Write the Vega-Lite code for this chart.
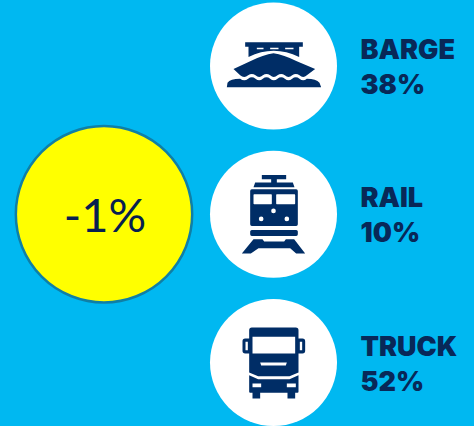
{
"$schema":"https://vega.github.io/schema/vega-lite/v6.json",
"width":474,"height":426,"padding":0,"autosize":{"type":"fit","contains":"padding"},
"background":"#00B8F1",
"config":{"view":{"stroke":null}},
"datasets":{"modes":[{"mode":"BARGE","share":0.38},{"mode":"RAIL","share":0.10},{"mode":"TRUCK","share":0.52}],"change":[{"label":"-1%"}]},
"encoding":{
"x":{"datum":"icon","type":"nominal","axis":null,"scale":{"type":"point","domain":["change","icon"],"range":[104,273.5],"padding":0}},
"y":{"field":"mode","type":"nominal","axis":null,"scale":{"type":"point","domain":["BARGE","RAIL","TRUCK"],"range":[66,362.5],"padding":0}}
},
"layer":[
{"data":{"name":"change"},"mark":{"type":"point","shape":"circle","filled":true,"fill":"#FFFF00","stroke":"#0F7FA6","strokeWidth":2.5,"size":31100,"opacity":1},
"encoding":{"x":{"datum":"change","type":"nominal"},"y":{"datum":"RAIL","type":"nominal"}}},
{"data":{"name":"change"},"mark":{"type":"text","font":"Lato","fontSize":47,"fontWeight":400,"color":"#071F50","align":"center","baseline":"alphabetic","dy":17.5,"dx":1},
"encoding":{"x":{"datum":"change","type":"nominal"},"y":{"datum":"RAIL","type":"nominal"},"text":{"field":"label"}}},
{"data":{"name":"modes"},"mark":{"type":"point","shape":"circle","filled":true,"fill":"#FFFFFF","strokeWidth":0,"size":16129,"opacity":1}},
{"data":{"name":"modes"},"mark":{"type":"point","filled":true,"fill":"#002D66","strokeWidth":0,"size":0.4444,"opacity":1},
"encoding":{"shape":{"field":"mode","type":"nominal","legend":null,"scale":{"domain":["BARGE","RAIL","TRUCK"],"range":[
"M-85 -71L88 -71L88 -58L-85 -58ZM-75 -58L77 -58L77 -27Q0 -65 -75 -27ZM-50 -55L-50 -50L-30 -50L-30 -55ZM-10 -55L-10 -50L15 -50L15 -55ZM35 -55L35 -50L60 -50L60 -55ZM-120 9L-70 -14Q-30 -34 0 -38Q30 -34 70 -14L125 9L100 28Q89 38 78 28Q67 20 56 28Q45 38 34 28Q23 20 12 28Q1 38 -10 28Q-21 20 -32 28Q-43 38 -54 28Q-65 20 -76 28Q-88 38 -100 28ZM-140 64L143 64L138 50Q128 38 100 38Q89 48 78 38Q67 30 56 38Q45 48 34 38Q23 30 12 38Q1 48 -10 38Q-21 30 -32 38Q-43 48 -54 38Q-65 30 -76 38Q-88 48 -100 38Q-130 38 -138 50Z",
"M-35 -118L38 -118L38 -105L-35 -105ZM-7 -105L10 -105L10 -95L-7 -95ZM-55 -95L58 -95L63 -81L-60 -81ZM-65 -75L68 -75Q73 -75 73 -70L73 30Q73 35 68 35L-65 35Q-70 35 -70 30L-70 -70Q-70 -75 -65 -75ZM-60 -58L-60 -32Q-60 -30 -58 -30L-7 -30Q-5 -30 -5 -32L-5 -58Q-5 -60 -7 -60L-58 -60Q-60 -60 -60 -58ZM8 -58L8 -32Q8 -30 10 -30L63 -30Q65 -30 65 -32L65 -58Q65 -60 63 -60L10 -60Q8 -60 8 -58ZM-7 -10Q-7 -3 0 -3Q7 -3 7 -10Q7 -17 0 -17Q-7 -17 -7 -10ZM-44 14Q-44 21 -37 21Q-30 21 -30 14Q-30 7 -37 7Q-44 7 -44 14ZM33 14Q33 21 40 21Q47 21 47 14Q47 7 40 7Q33 7 33 14ZM-65 47L68 47Q73 47 73 52L73 60Q73 65 68 65L-65 65Q-70 65 -70 60L-70 52Q-70 47 -65 47ZM-60 75L-33 75L-28 82L32 82L37 75L62 75L95 118L68 118L50 102L-45 102L-68 118L-95 118Z",
"M-65 -105L67 -105Q75 -105 75 -97L75 30L48 41L-46 41L-73 30L-73 -97Q-73 -105 -65 -105ZM-63 -77L-63 -27L65 -27L65 -77ZM-40 0L-37 9L37 9L40 0ZM-73 38L-46 50L48 50L75 38L75 88Q75 91 72 91L-70 91Q-73 91 -73 88ZM-63 63L-63 74L-37 74L-37 63ZM40 63L40 74L67 74L67 63ZM-63 91L-40 91L-40 108L-63 108ZM42 91L65 91L65 108L42 108ZM-85 -72L-70 -72L-70 -27L-85 -27Q-93 -27 -93 -35L-93 -64Q-93 -72 -85 -72ZM-84 -62L-84 -37L-77 -37L-77 -62ZM72 -72L87 -72Q95 -72 95 -64L95 -35Q95 -27 87 -27L72 -27ZM79 -62L79 -37L86 -37L86 -62Z"
]}}}},
{"data":{"name":"modes"},"mark":{"type":"text","font":"Inter","fontSize":27,"fontWeight":900,"color":"#082858","align":"left","baseline":"alphabetic","dx":87,"dy":-7},
"encoding":{"text":{"field":"mode"}}},
{"data":{"name":"modes"},"mark":{"type":"text","font":"Inter","fontSize":27,"fontWeight":900,"color":"#082858","align":"left","baseline":"alphabetic","dx":87,"dy":28},
"encoding":{"text":{"field":"share","type":"quantitative","format":".0%"}}}
]
}
